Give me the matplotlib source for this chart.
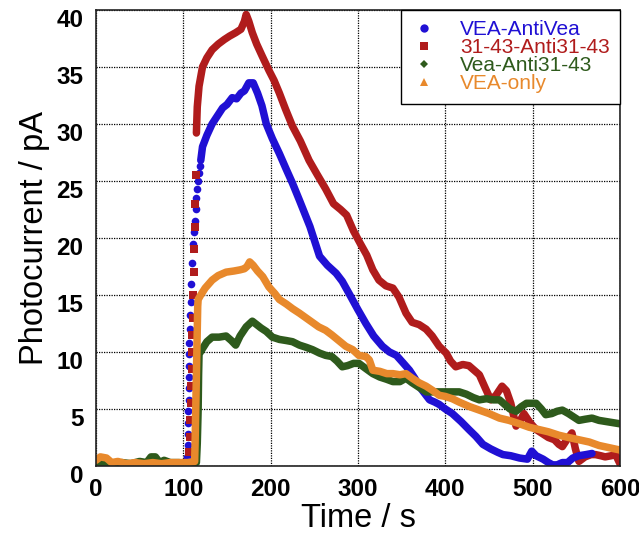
import numpy as np
import matplotlib
matplotlib.use("Agg")
import matplotlib.pyplot as plt
import matplotlib.transforms as mtransforms
from matplotlib.lines import Line2D

plt.rcParams["font.family"] = ["Liberation Sans", "DejaVu Sans"]

# ---- data ----
labels = ["VEA-AntiVea", "31-43-Anti31-43", "Vea-Anti31-43", "VEA-only"]
colors = ["#2010D4", "#B01C1C", "#2E5A1C", "#E8892C"]

# VEA-AntiVea (blue)
blue_base_t = [0, 20, 40, 60, 80, 100, 104]
blue_base_v = [0.3, 0.3, 0.2, 0.3, 0.2, 0.3, 0.5]
blue_rise_t = [104.5, 105, 105, 105.5, 105.5, 106, 106, 106.5, 106.5, 107, 107,
               107.5, 108, 108.5, 109, 110, 111, 112, 113, 114, 115, 116, 117, 118, 119]
blue_rise_v = [0.8, 1.8, 2.8, 3.8, 4.8, 5.8, 6.8, 7.8, 8.8, 9.8, 10.8,
               12.0, 13.2, 14.4, 16.0, 17.8, 19.5, 20.5, 21.5, 22.5, 23.5, 24.3, 25.0, 25.7, 26.3]
blue_t = [120, 122, 127, 133, 139, 145, 150, 156, 161, 166, 170, 175, 180, 185, 190,
          195, 202, 210, 218, 225, 233, 245, 256, 265, 275, 282, 290, 300, 309, 318,
          328, 336, 344, 351, 359, 365, 370, 376, 382, 388, 393, 400, 408, 418, 427,
          435, 443, 452, 460, 466, 475, 485, 494, 499, 504, 512, 518, 523, 528, 534,
          540, 546, 553, 561, 568]
blue_v = [26.8, 28.0, 29.0, 30.0, 30.7, 31.4, 31.7, 32.3, 32.2, 32.7, 32.9, 33.6, 33.6, 32.7, 31.6,
          30.0, 28.7, 27.4, 26.0, 24.8, 23.3, 21.0, 18.4, 17.6, 16.9, 16.2, 15.1, 13.7, 12.5, 11.4,
          10.5, 10.0, 9.7, 9.1, 8.4, 7.7, 7.0, 6.4, 5.8, 5.6, 5.4, 5.0, 4.6, 3.9, 3.2,
          2.6, 1.9, 1.5, 1.2, 1.0, 0.9, 0.7, 0.6, 1.3, 0.9, 0.6, 0.3, 0.1, 0.1, 0.3,
          0.3, 0.7, 0.9, 1.0, 1.1]

# 31-43-Anti31-43 (red)
red_base_t = [0, 20, 40, 60, 80, 100, 106]
red_base_v = [0.3, 0.3, 0.3, 0.3, 0.3, 0.5, 0.6]
red_rise_t = [107, 107.5, 108, 108.5, 109, 109.5, 110, 110.5, 111, 111.5, 112, 112.5, 113, 113.5, 114]
red_rise_v = [1.2, 2.5, 4.0, 5.5, 7.0, 8.5, 10.0, 11.5, 13.0, 15.0, 17.0, 19.0, 21.0, 23.0, 25.5]
red_t = [115, 116, 118, 122, 127, 133, 140, 147, 153, 160, 166, 170, 172, 175, 179,
         184, 190, 198, 204, 210, 217, 225, 234, 244, 253, 263, 272, 280, 287, 295,
         302, 310, 317, 324, 332, 340, 347, 355, 362, 370, 378, 385, 393, 401, 406,
         412, 420, 427, 433, 439, 446, 452, 458, 465, 470, 475, 481, 486, 490, 497,
         504, 512, 518, 525, 530, 534, 540, 545, 549, 553, 560, 567, 572, 578, 583,
         590, 595, 600]
red_v = [29.2, 31.5, 33.3, 35.0, 35.8, 36.5, 37.0, 37.4, 37.7, 38.0, 38.3, 39.0, 39.6, 39.0, 38.0,
         37.0, 36.0, 34.7, 33.8, 32.7, 31.3, 29.8, 28.5, 26.8, 25.6, 24.3, 23.0, 22.5, 22.0, 20.6,
         19.6, 18.5, 17.2, 16.3, 15.8, 15.6, 14.8, 13.4, 12.6, 12.4, 12.0, 11.4, 10.5, 9.9, 9.2,
         8.7, 8.9, 8.8, 8.4, 8.0, 6.8, 5.8, 6.2, 7.0, 6.6, 5.5, 3.5, 4.0, 4.6, 3.8,
         3.2, 2.8, 2.5, 2.3, 1.9, 1.7, 2.4, 2.9, 1.5, 0.4, 0.8, 1.0, 1.0, 0.9, 0.8,
         0.9, 1.0, 0.2]

# Vea-Anti31-43 (green)
green_t = [0, 10, 20, 30, 40, 50, 58, 63, 68, 73, 78, 85, 95, 105, 115,
           116, 117, 117.5,
           118, 122, 127, 133, 141, 149, 155, 160, 165, 172, 179, 184, 189, 195, 202,
           210, 218, 225, 233, 241, 248, 256, 263, 270, 276, 282, 288, 295, 301, 308,
           317, 325, 333, 340, 348, 355, 362, 370, 378, 386, 393, 400, 408, 416, 424,
           432, 439, 447, 455, 462, 468, 474, 481, 487, 493, 499, 504, 510, 515, 522,
           528, 534, 541, 547, 553, 560, 568, 576, 584, 592, 600]
green_v = [0.3, 0.3, 0.2, 0.3, 0.2, 0.4, 0.3, 0.8, 0.8, 0.3, 0.5, 0.3, 0.3, 0.2, 0.3,
           2.0, 5.0, 8.0,
           9.8, 10.3, 10.9, 11.3, 11.3, 11.4, 11.0, 10.6, 11.4, 12.2, 12.7, 12.4, 12.1, 11.8, 11.3,
           11.1, 11.0, 10.9, 10.6, 10.4, 10.2, 9.9, 9.7, 9.6, 9.2, 8.7, 8.8, 9.0, 9.0, 8.6,
           8.1, 7.8, 7.6, 7.4, 7.4, 7.7, 7.3, 6.9, 6.5, 6.5, 6.5, 6.5, 6.5, 6.5, 6.3,
           6.0, 5.8, 5.9, 5.8, 5.8, 5.4, 5.0, 4.8, 5.2, 5.5, 5.5, 5.5, 5.0, 4.5, 4.6,
           4.8, 4.9, 4.6, 4.3, 4.0, 4.1, 4.2, 4.0, 3.9, 3.8, 3.7]

# VEA-only (orange)
orange_t = [0, 5, 12, 18, 25, 35, 45, 55, 65, 75, 85, 95, 105, 113,
            113.5, 114, 114.5, 115, 115.5, 116, 116.5,
            117, 120, 125, 133, 140, 149, 158, 165, 170, 173, 176, 180, 185, 191,
            198, 205, 210, 218, 225, 233, 244, 255, 263, 270, 278, 286, 294, 301,
            309, 313, 317, 325, 333, 340, 348, 355, 362, 370, 378, 386, 393, 400,
            408, 416, 428, 439, 450, 462, 473, 485, 496, 507, 518, 530, 541, 553,
            565, 576, 588, 600]
orange_v = [0.5, 0.8, 0.7, 0.3, 0.4, 0.2, 0.3, 0.2, 0.3, 0.2, 0.3, 0.3, 0.3, 0.4,
            2.0, 4.0, 6.0, 8.0, 10.0, 12.0, 14.0,
            14.6, 15.0, 15.6, 16.3, 16.7, 17.0, 17.1, 17.2, 17.3, 17.5, 17.9, 17.6, 17.1, 16.6,
            15.7, 15.1, 14.6, 14.2, 13.8, 13.4, 12.8, 12.2, 11.9, 11.5, 11.0, 10.5, 10.2, 9.7,
            9.6, 9.3, 8.4, 8.3, 8.1, 8.1, 8.0, 8.1, 7.7, 7.3, 7.0, 6.6, 6.2, 6.1,
            5.9, 5.6, 5.2, 4.9, 4.6, 4.2, 4.0, 3.7, 3.4, 3.2, 3.0, 2.7, 2.5, 2.3,
            2.1, 1.8, 1.6, 1.4]

x_ticks = [0, 100, 200, 300, 400, 500, 600]
y_ticks = [0, 5, 10, 15, 20, 25, 30, 35, 40]

# ---- figure ----
fig = plt.figure(figsize=(6.39, 5.36), dpi=100)
ax = fig.add_axes([0.1502, 0.1306, 0.8200, 0.8510])

lw = 5.4
line_kw = dict(lw=lw, solid_joinstyle="round", solid_capstyle="round")

# red and blue: thin baseline, dotted rise, thick decay
ax.plot(red_base_t, red_base_v, color=colors[1], lw=2, solid_capstyle="round")
ax.plot(red_t, red_v, color=colors[1], **line_kw)
ax.plot(blue_base_t, blue_base_v, color=colors[0], lw=2, solid_capstyle="round")
ax.plot(blue_rise_t, blue_rise_v, ls="none", marker="o", ms=5.5, color=colors[0], mew=0)
ax.plot(red_rise_t, red_rise_v, ls="none", marker="s", ms=6, color=colors[1], mew=0)
ax.plot(blue_t, blue_v, color=colors[0], **line_kw)

# green, orange on top
ax.plot(green_t, green_v, color=colors[2], **line_kw)
ax.plot(orange_t, orange_v, color=colors[3], **line_kw)

ax.set_xlim(0, 600)
ax.set_ylim(0, 40)
ax.set_xticks(x_ticks)
ax.set_yticks(y_ticks)
ax.tick_params(length=0, labelsize=17.5, pad=9)
for lab in ax.get_xticklabels() + ax.get_yticklabels():
    lab.set_fontweight("bold")

# y tick labels sit a bit below their grid lines in the reference
offset = mtransforms.ScaledTranslation(0, -0.08, fig.dpi_scale_trans)
for lab in ax.get_yticklabels():
    lab.set_transform(lab.get_transform() + offset)

ax.grid(True, color="black", linestyle=(0, (1, 1)), linewidth=0.9)
for sp in ax.spines.values():
    sp.set_linewidth(1.2)
    sp.set_color("#222222")

ax.set_xlabel("Time / s", fontsize=23.5, labelpad=1)
ax.set_ylabel("Photocurrent / pA", fontsize=23.5, labelpad=5)

markers = ["o", "s", "D", "^"]
sizes = [6, 6, 4, 6]
handles = [Line2D([], [], ls="none", marker=m, ms=s, color=c, mew=0)
           for m, s, c in zip(markers, sizes, colors)]
leg = ax.legend(handles, labels, loc="upper right", fontsize=15,
                frameon=True, fancybox=False, framealpha=1,
                edgecolor="black", borderaxespad=0, labelspacing=-0.05,
                handlelength=1.2, handletextpad=1.1, borderpad=0.5,
                labelcolor=colors)
leg.get_frame().set_linewidth(1.0)

fig.savefig("out.png", dpi=100)
